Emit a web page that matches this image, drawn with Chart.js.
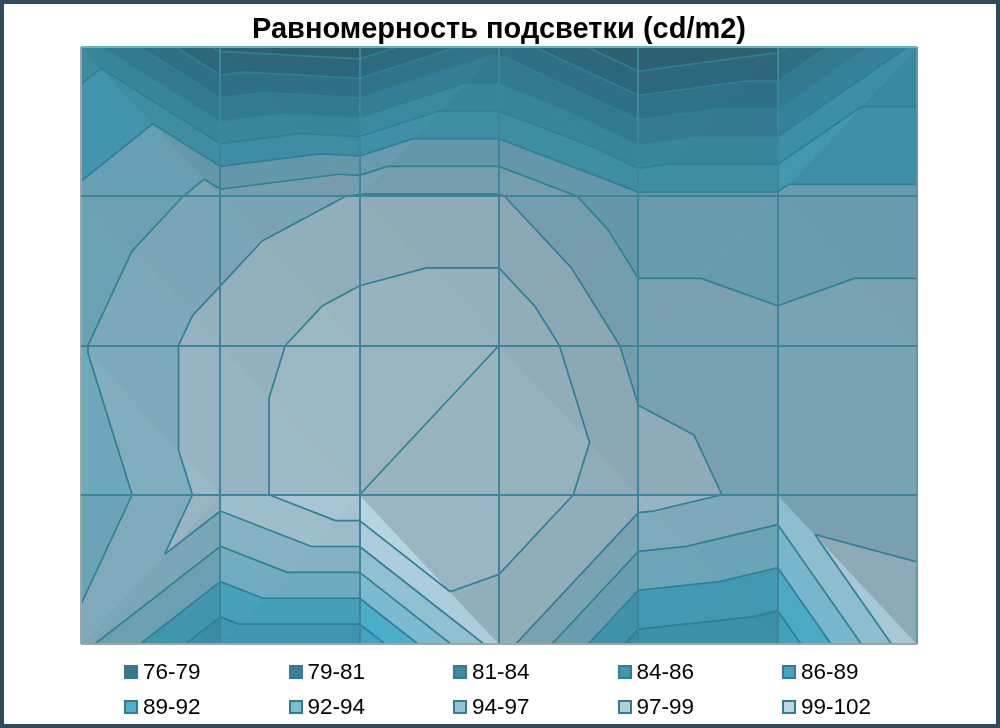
<!DOCTYPE html>
<html lang="ru">
<head>
<meta charset="utf-8">
<title>Равномерность подсветки</title>
<script src="https://cdn.jsdelivr.net/npm/chart.js@4/dist/chart.umd.min.js"></script>
<style>
    html, body { margin: 0; background: #fff; }
    #frame { position: relative; box-sizing: border-box; width: 1000px; height: 728px; border: 4px solid #2e4a5e; overflow: hidden; }
    #legend { position: absolute; left: 120px; top: 650px; display: grid; grid-template-columns: repeat(5, 164.5px); grid-auto-rows: 35px; font: 22.5px "Liberation Sans", Arial, sans-serif; color: #000; }
    #legend div { display: flex; align-items: center; }
    #legend i { box-sizing: border-box; width: 14px; height: 14px; margin-right: 5px; border: 2px solid #357a91; }
</style>
</head>
<body>
<div id="frame">
    <canvas id="surface" width="992" height="720"></canvas>
    <div id="legend"></div>
</div>
<script>
// яркость в узлах сетки (cd/m2), строка = ряд измерений сверху вниз
const row1 = [88, 78, 77, 83, 76, 78, 87];
const row2 = [92, 95, 97, 97, 92, 92, 92];
const row3 = [94, 98, 101, 102, 96, 95, 96];
const row4 = [92, 98, 102, 101, 98, 96, 95];
const row5 = [95, 87, 87, 98, 88, 87, 99];
const rows = [row1, row2, row3, row4, row5];

// как разбита на треугольники каждая ячейка: d = из верхнего левого угла, a = из верхнего правого
const cellSplits = [
    ['d', 'd', 'a', 'd', 'a', 'a'],
    ['d', 'd', 'd', 'a', 'a', 'd'],
    ['d', 'd', 'a', 'd', 'a', 'a'],
    ['a', 'a', 'd', 'a', 'd', 'd'],
];

const bandEdges = [76, 78.6, 81.2, 83.8, 86.4, 89, 91.6, 94.2, 96.8, 99.4, 102];
const bandLabels = ['76-79', '79-81', '81-84', '84-86', '86-89', '89-92', '92-94', '94-97', '97-99', '99-102'];
const bandColors = ['#35788c', '#38809a', '#3b8ca5', '#3f97b3', '#46a6c2', '#4db0cc', '#7dbdd3', '#93c4d6', '#aed1e0', '#b8d8e6'];

const titleText = 'Равномерность подсветки (cd/m2)';
const lineColor = '#2f7f96';

function node(col, row) {
    return { x: col, y: row, v: rows[row][col] };
}

function cellTriangles(col, row) {
    const tl = node(col, row), tr = node(col + 1, row), bl = node(col, row + 1), br = node(col + 1, row + 1);
    if (cellSplits[row][col] === 'd') return [[tl, tr, br], [tl, bl, br]];
    return [[tl, tr, bl], [tr, br, bl]];
}

function cut(p, q, level) {
    const t = (level - p.v) / (q.v - p.v);
    return { x: p.x + (q.x - p.x) * t, y: p.y + (q.y - p.y) * t, v: level };
}

// оставляем часть многоугольника выше (sign = 1) или ниже (sign = -1) уровня
function clip(poly, level, sign) {
    const out = [];
    poly.forEach((p, i) => {
        const q = poly[(i + 1) % poly.length];
        const pIn = (p.v - level) * sign >= 0, qIn = (q.v - level) * sign >= 0;
        if (pIn) out.push(p);
        if (pIn !== qIn) out.push(cut(p, q, level));
    });
    return out;
}

// освещение грани: наклон влево-вниз светлее, остальные одинаково приглушены
function facetLight(tri) {
    const [a, b, c] = tri;
    const det = (b.x - a.x) * (c.y - a.y) - (c.x - a.x) * (b.y - a.y);
    const gx = ((b.v - a.v) * (c.y - a.y) - (c.v - a.v) * (b.y - a.y)) / det;
    const gy = ((c.v - a.v) * (b.x - a.x) - (b.v - a.v) * (c.x - a.x)) / det;
    const fromX = gx > 0 ? 0.0075 * gx : 0.0046 * gx;
    const fromY = gy < 0 ? -0.00464 * gy : -0.0025 * gy;
    return Math.min(1, Math.max(0.8, 0.83 + fromX + fromY));
}

function shade(hex, f) {
    const n = parseInt(hex.slice(1), 16);
    return `rgb(${Math.round((n >> 16) * f)}, ${Math.round(((n >> 8) & 255) * f)}, ${Math.round((n & 255) * f)})`;
}

const bandSets = [];
const triangles = [];
for (let row = 0; row < cellSplits.length; row++) {
    for (let col = 0; col < cellSplits[row].length; col++) {
        triangles.push(...cellTriangles(col, row));
    }
}

triangles.forEach(tri => {
    const light = facetLight(tri);
    bandLabels.forEach((label, b) => {
        const poly = clip(clip(tri, bandEdges[b], 1), bandEdges[b + 1], -1);
        if (poly.length < 3) return;
        const color = shade(bandColors[b], light);
        bandSets.push({
            label: label,
            data: [...poly, poly[0]].map(p => ({ x: p.x, y: p.y })),
            showLine: true,
            fill: 'shape',
            backgroundColor: color,
            borderColor: color,
            borderWidth: 1,
            pointRadius: 0,
        });
    });
});

// изолинии, один набор на уровень, разрывы между отрезками
const contourSets = bandEdges.slice(1).map(level => {
    const data = [];
    triangles.forEach(tri => {
        const hits = [];
        tri.forEach((p, i) => {
            const q = tri[(i + 1) % 3];
            if ((p.v >= level) !== (q.v >= level)) hits.push(cut(p, q, level));
        });
        if (hits.length === 2) {
            data.push({ x: hits[0].x, y: hits[0].y }, { x: hits[1].x, y: hits[1].y }, { x: null, y: null });
        }
    });
    return {
        label: 'level ' + level,
        data: data,
        showLine: true,
        fill: false,
        borderColor: lineColor,
        borderWidth: 1.7,
        pointRadius: 0,
    };
});

new Chart(document.getElementById('surface'), {
    type: 'scatter',
    data: { datasets: [...contourSets, ...bandSets] },
    options: {
        responsive: false,
        animation: false,
        events: [],
        layout: { padding: { left: 77, right: 79, top: 0, bottom: 80 } },
        plugins: {
            legend: { display: false },
            tooltip: { enabled: false },
            title: {
                display: true,
                text: titleText,
                color: '#000',
                font: { family: '"Liberation Sans", Arial, sans-serif', size: 29, weight: 'bold', lineHeight: 1 },
                padding: { top: 11.5, bottom: 2.5 },
            },
        },
        scales: {
            x: {
                type: 'linear',
                min: 0,
                max: row1.length - 1,
                ticks: { display: false, stepSize: 1 },
                border: { display: false },
                grid: {
                    z: 1,
                    drawTicks: false,
                    lineWidth: 2,
                    color: ctx => (ctx.tick.value === 0 ? '#a3a3a3' : ctx.tick.value === row1.length - 1 ? '#5f97a8' : '#3d8599'),
                },
            },
            y: {
                type: 'linear',
                reverse: true,
                min: 0,
                max: rows.length - 1,
                ticks: { display: false, stepSize: 1 },
                border: { display: false },
                grid: {
                    z: 1,
                    drawTicks: false,
                    lineWidth: 2,
                    color: ctx => (ctx.tick.value === 0 ? '#6fb0c0' : ctx.tick.value === rows.length - 1 ? '#a3a3a3' : '#3d8599'),
                },
            },
        },
    },
});

// легенда: 5 колонок, две строки
const legendBox = document.getElementById('legend');
bandLabels.forEach((label, b) => {
    const item = document.createElement('div');
    const swatch = document.createElement('i');
    swatch.style.background = bandColors[b];
    item.appendChild(swatch);
    item.appendChild(document.createTextNode(label));
    legendBox.appendChild(item);
});
</script>
</body>
</html>
